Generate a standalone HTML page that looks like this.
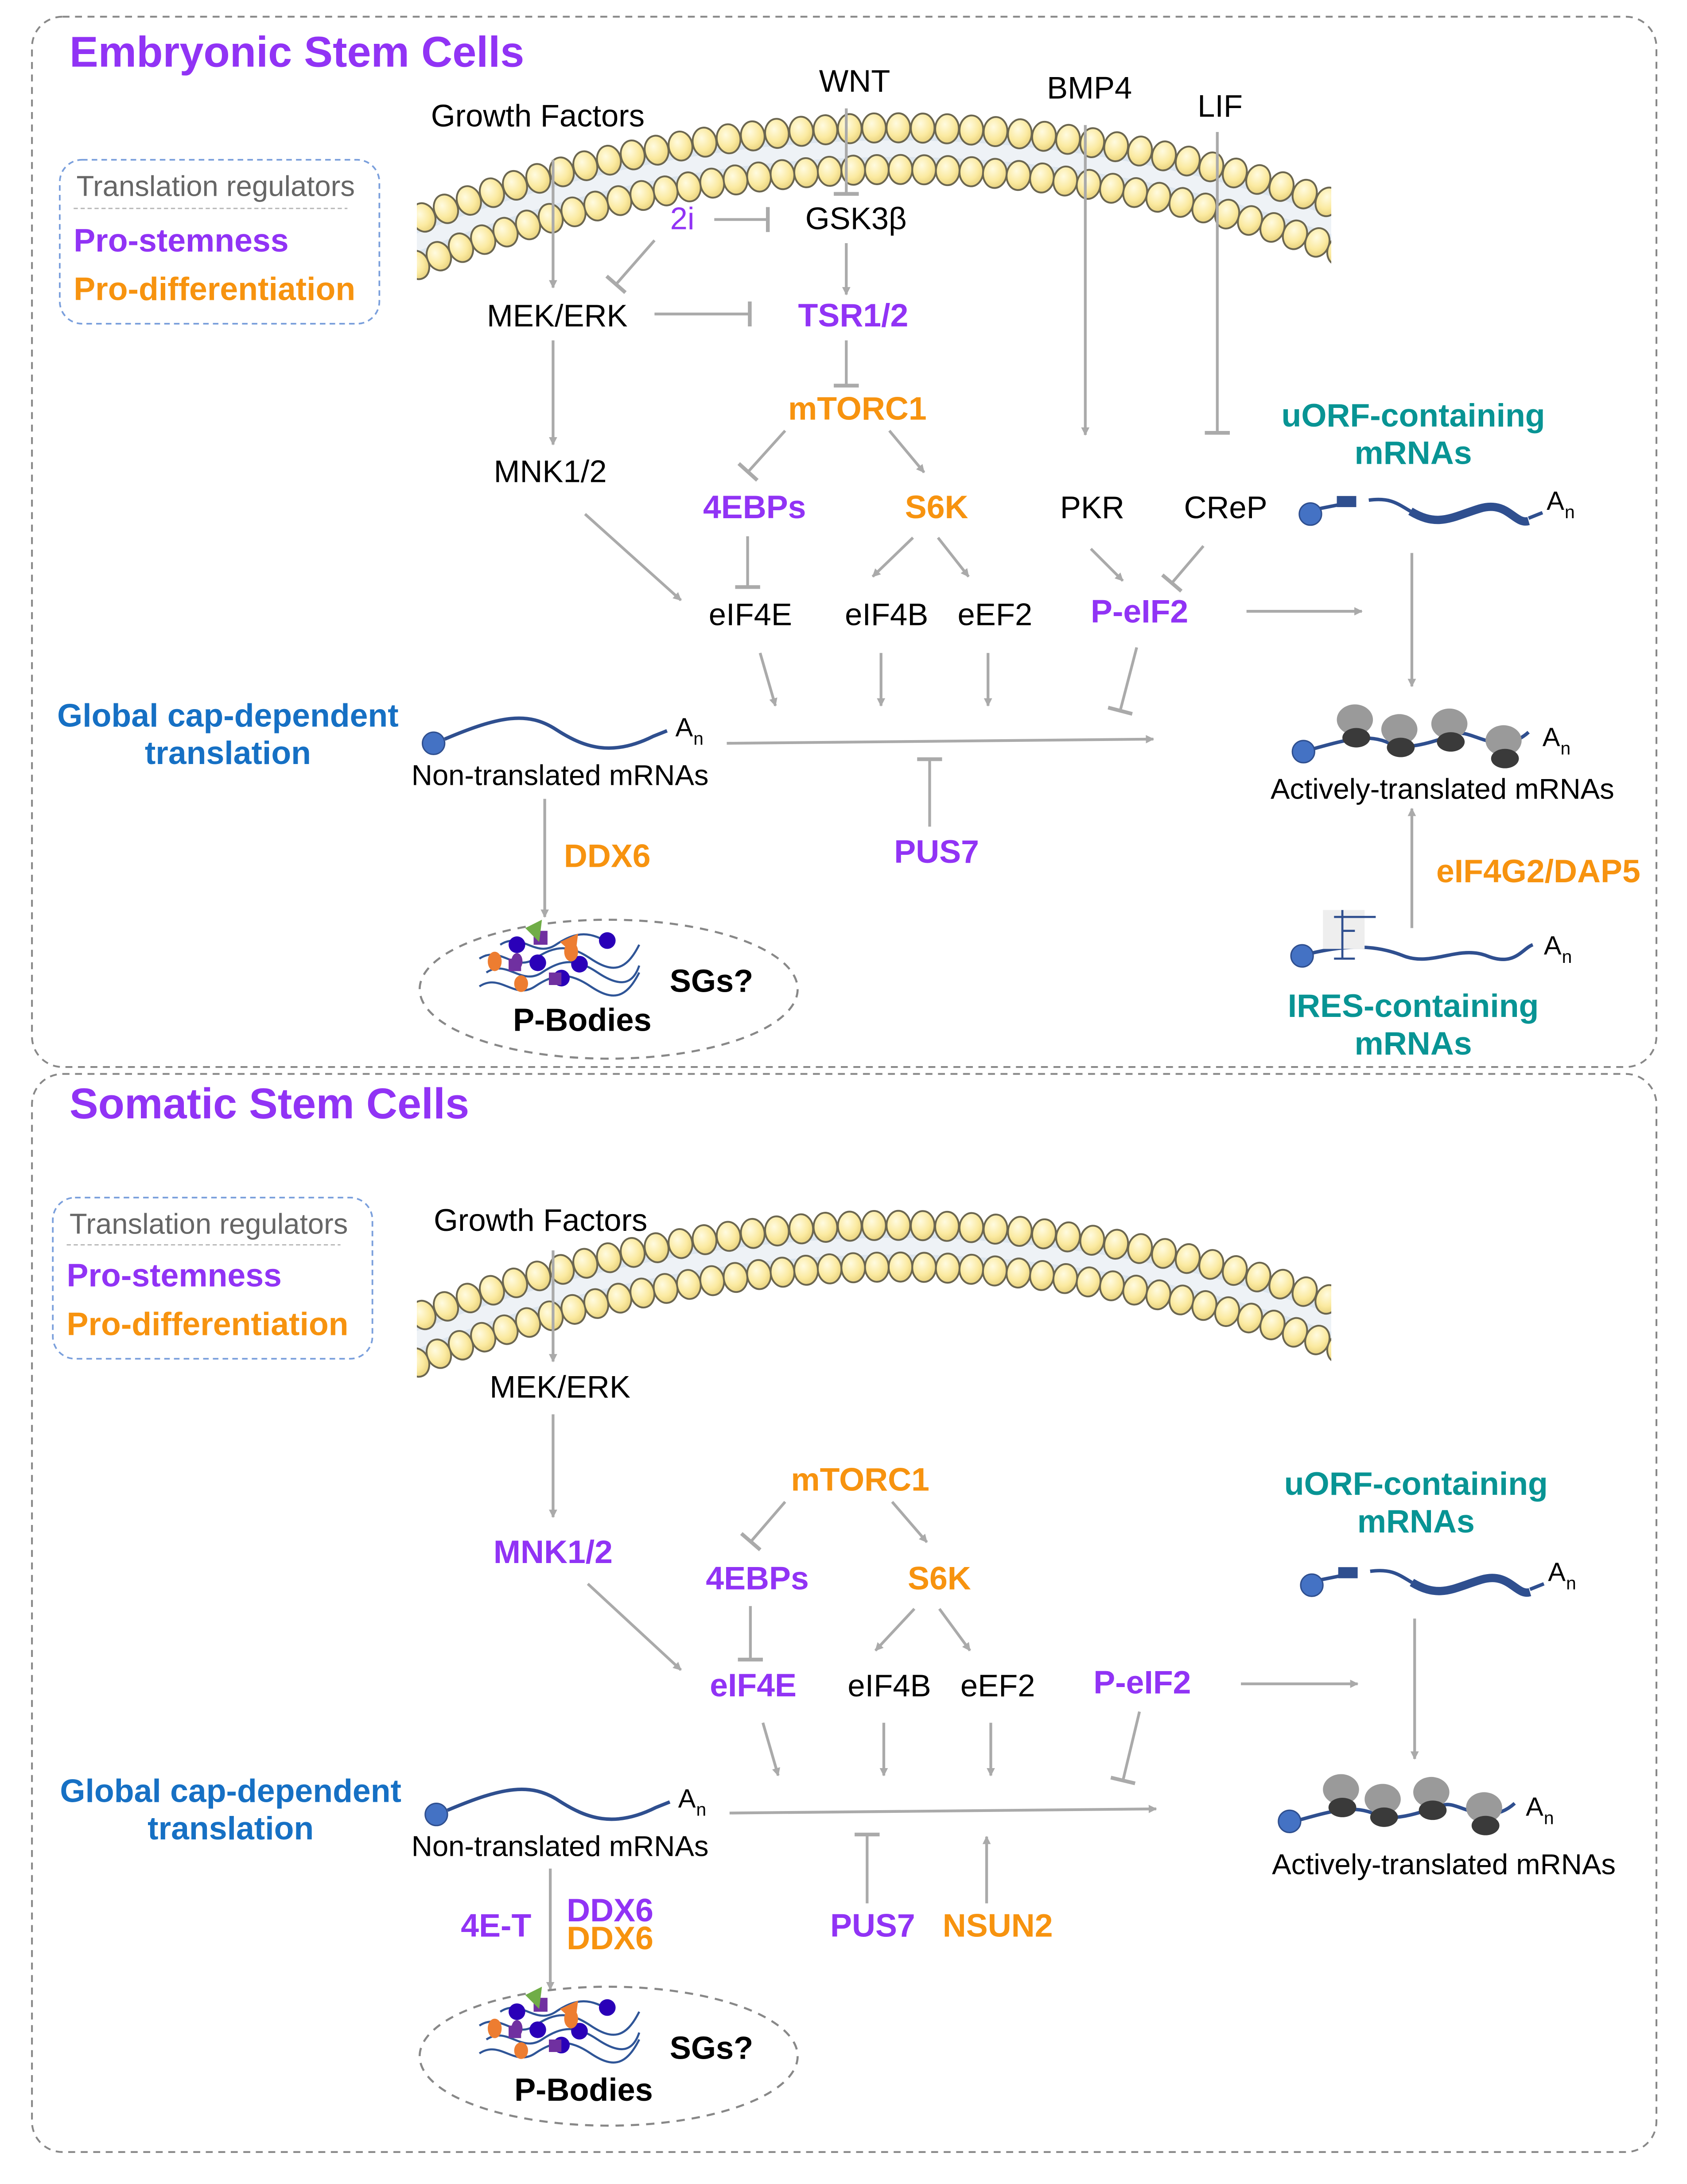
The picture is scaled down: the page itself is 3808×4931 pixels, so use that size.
<!DOCTYPE html>
<html><head><meta charset="utf-8"><style>
html,body{margin:0;padding:0;background:#fff}
svg{display:block}
text{font-family:"Liberation Sans",Arial,sans-serif}
.n{font-size:22.5px;fill:#000}
.b{font-size:23.4px;font-weight:bold}
.p{fill:#9133f5}.o{fill:#f7930f}.t{fill:#089494}.bl{fill:#1670c4}
.a{stroke:#aaa;stroke-width:2;fill:none}
</style></head><body>
<svg id="s" width="3808" height="4931" viewBox="0 0 1214 1572" xmlns="http://www.w3.org/2000/svg">
<defs>
<marker id="ar" viewBox="0 0 10 10" refX="9" refY="5" markerWidth="6" markerHeight="6" orient="auto" markerUnits="userSpaceOnUse"><path d="M0,0 L10,5 L0,10 Z" fill="#aaa"/></marker>
<marker id="tb" viewBox="0 0 4 20" refX="2" refY="10" markerWidth="4" markerHeight="18" orient="auto" markerUnits="userSpaceOnUse"><rect x="0" y="0" width="3" height="20" fill="#aaa"/></marker>
<radialGradient id="hg" cx="0.4" cy="0.35" r="0.7"><stop offset="0" stop-color="#fffbe0"/><stop offset="0.6" stop-color="#fbeaa0"/><stop offset="1" stop-color="#e6cf7a"/></radialGradient>
<g id="rib"><ellipse cx="0" cy="-7" rx="13" ry="11" fill="#9a9a9a"/><ellipse cx="1" cy="6" rx="10" ry="7" fill="#3a3a3a"/></g>
<clipPath id="mc"><rect x="300" y="0" width="658" height="1572"/></clipPath>
</defs>
<rect x="0" y="0" width="1214" height="1572" fill="#fff"/>
<g clip-path="url(#mc)"><g id="mem1"></g><g id="mem2"></g></g>

<rect x="23" y="12" width="1169" height="756" rx="22" fill="none" stroke="#888" stroke-width="1.3" stroke-dasharray="5,4"/>
<rect x="23" y="773" width="1169" height="776" rx="22" fill="none" stroke="#888" stroke-width="1.3" stroke-dasharray="5,4"/>
<text x="50" y="48" font-size="31" font-weight="bold" class="p">Embryonic Stem Cells</text>
<text x="50" y="805" font-size="31" font-weight="bold" class="p">Somatic Stem Cells</text>

<rect x="43" y="115" width="230" height="118" rx="16" fill="none" stroke="#7a9fdc" stroke-width="1.2" stroke-dasharray="4,3"/>
<text x="55" y="141" font-size="20.8" fill="#666">Translation regulators</text>
<line x1="53" y1="150" x2="250" y2="150" stroke="#bbb" stroke-dasharray="3,2"/>
<text x="53" y="181" class="b p">Pro-stemness</text>
<text x="53" y="216" class="b o">Pro-differentiation</text>
<rect x="38" y="862" width="230" height="116" rx="16" fill="none" stroke="#7a9fdc" stroke-width="1.2" stroke-dasharray="4,3"/>
<text x="50" y="888" font-size="20.8" fill="#666">Translation regulators</text>
<line x1="48" y1="896" x2="245" y2="896" stroke="#bbb" stroke-dasharray="3,2"/>
<text x="48" y="926" class="b p">Pro-stemness</text>
<text x="48" y="961" class="b o">Pro-differentiation</text>

<g text-anchor="middle">
<text x="387" y="91" class="n">Growth Factors</text>
<text x="615" y="66" class="n">WNT</text>
<text x="784" y="71" class="n">BMP4</text>
<text x="878" y="84" class="n">LIF</text>
<text x="491" y="165" font-size="22.5" class="p">2i</text>
<text x="616" y="165" class="n">GSK3β</text>
<text x="401" y="235" class="n">MEK/ERK</text>
<text x="614" y="235" class="b p">TSR1/2</text>
<text x="617" y="302" class="b o">mTORC1</text>
<text x="396" y="347" class="n">MNK1/2</text>
<text x="543" y="373" class="b p">4EBPs</text>
<text x="674" y="373" class="b o">S6K</text>
<text x="786" y="373" class="n">PKR</text>
<text x="882" y="373" class="n">CReP</text>
<text x="1017" y="307" class="b t">uORF-containing</text>
<text x="1017" y="334" class="b t">mRNAs</text>
<text x="540" y="450" class="n">eIF4E</text>
<text x="638" y="450" class="n">eIF4B</text>
<text x="716" y="450" class="n">eEF2</text>
<text x="820" y="448" class="b p">P-eIF2</text>
<text x="164" y="523" class="b bl">Global cap-dependent</text>
<text x="164" y="550" class="b bl">translation</text>
<text x="403" y="565" font-size="20.8">Non-translated mRNAs</text>
<text x="1038" y="575" font-size="20.8">Actively-translated mRNAs</text>
<text x="437" y="624" class="b o">DDX6</text>
<text x="674" y="621" class="b p">PUS7</text>
<text x="1107" y="635" class="b o">eIF4G2/DAP5</text>
<text x="1017" y="732" class="b t">IRES-containing</text>
<text x="1017" y="759" class="b t">mRNAs</text>
<text x="419" y="742" font-size="23" font-weight="bold">P-Bodies</text>
<text x="512" y="714" font-size="23" font-weight="bold">SGs?</text>

<text x="389" y="886" class="n">Growth Factors</text>
<text x="403" y="1006" class="n">MEK/ERK</text>
<text x="619" y="1073" class="b o">mTORC1</text>
<text x="398" y="1125" class="b p">MNK1/2</text>
<text x="545" y="1144" class="b p">4EBPs</text>
<text x="676" y="1144" class="b o">S6K</text>
<text x="1019" y="1076" class="b t">uORF-containing</text>
<text x="1019" y="1103" class="b t">mRNAs</text>
<text x="542" y="1221" class="b p">eIF4E</text>
<text x="640" y="1221" class="n">eIF4B</text>
<text x="718" y="1221" class="n">eEF2</text>
<text x="822" y="1219" class="b p">P-eIF2</text>
<text x="166" y="1297" class="b bl">Global cap-dependent</text>
<text x="166" y="1324" class="b bl">translation</text>
<text x="403" y="1336" font-size="20.8">Non-translated mRNAs</text>
<text x="1039" y="1349" font-size="20.8">Actively-translated mRNAs</text>
<text x="357" y="1394" class="b p">4E-T</text>
<text x="439" y="1383" class="b p">DDX6</text>
<text x="439" y="1403" class="b o">DDX6</text>
<text x="628" y="1394" class="b p">PUS7</text>
<text x="718" y="1394" class="b o">NSUN2</text>
<text x="420" y="1512" font-size="23" font-weight="bold">P-Bodies</text>
<text x="512" y="1482" font-size="23" font-weight="bold">SGs?</text>
</g>

<g class="a">
<line x1="398" y1="115" x2="398" y2="207" marker-end="url(#ar)"/>
<line x1="471" y1="173" x2="443" y2="205" marker-end="url(#tb)"/>
<line x1="514" y1="158" x2="553" y2="158" marker-end="url(#tb)"/>
<line x1="609" y1="78" x2="609" y2="140" marker-end="url(#tb)"/>
<line x1="609" y1="175" x2="609" y2="212" marker-end="url(#ar)"/>
<line x1="471" y1="226" x2="540" y2="226" marker-end="url(#tb)"/>
<line x1="609" y1="245" x2="609" y2="278" marker-end="url(#tb)"/>
<line x1="781" y1="90" x2="781" y2="313" marker-end="url(#ar)"/>
<line x1="876" y1="95" x2="876" y2="312" marker-end="url(#tb)"/>
<line x1="398" y1="245" x2="398" y2="320" marker-end="url(#ar)"/>
<line x1="565" y1="310" x2="538" y2="340" marker-end="url(#tb)"/>
<line x1="640" y1="310" x2="665" y2="340" marker-end="url(#ar)"/>
<line x1="421" y1="370" x2="490" y2="432" marker-end="url(#ar)"/>
<line x1="538" y1="386" x2="538" y2="423" marker-end="url(#tb)"/>
<line x1="657" y1="387" x2="628" y2="415" marker-end="url(#ar)"/>
<line x1="675" y1="387" x2="697" y2="415" marker-end="url(#ar)"/>
<line x1="785" y1="395" x2="808" y2="418" marker-end="url(#ar)"/>
<line x1="866" y1="393" x2="843" y2="420" marker-end="url(#tb)"/>
<line x1="547" y1="470" x2="558" y2="508" marker-end="url(#ar)"/>
<line x1="634" y1="470" x2="634" y2="508" marker-end="url(#ar)"/>
<line x1="711" y1="470" x2="711" y2="508" marker-end="url(#ar)"/>
<line x1="818" y1="466" x2="806" y2="512" marker-end="url(#tb)"/>
<line x1="897" y1="440" x2="980" y2="440" marker-end="url(#ar)"/>
<line x1="523" y1="535" x2="830" y2="532" marker-end="url(#ar)"/>
<line x1="669" y1="595" x2="669" y2="546" marker-end="url(#tb)"/>
<line x1="1016" y1="398" x2="1016" y2="494" marker-end="url(#ar)"/>
<line x1="1016" y1="668" x2="1016" y2="582" marker-end="url(#ar)"/>
<line x1="392" y1="575" x2="392" y2="660" marker-end="url(#ar)"/>
</g>
<g class="a">
<line x1="398" y1="900" x2="398" y2="980" marker-end="url(#ar)"/>
<line x1="398" y1="1018" x2="398" y2="1092" marker-end="url(#ar)"/>
<line x1="565" y1="1081" x2="540" y2="1110" marker-end="url(#tb)"/>
<line x1="642" y1="1081" x2="667" y2="1110" marker-end="url(#ar)"/>
<line x1="423" y1="1140" x2="490" y2="1202" marker-end="url(#ar)"/>
<line x1="540" y1="1156" x2="540" y2="1195" marker-end="url(#tb)"/>
<line x1="658" y1="1158" x2="630" y2="1188" marker-end="url(#ar)"/>
<line x1="676" y1="1158" x2="698" y2="1188" marker-end="url(#ar)"/>
<line x1="549" y1="1240" x2="560" y2="1278" marker-end="url(#ar)"/>
<line x1="636" y1="1240" x2="636" y2="1278" marker-end="url(#ar)"/>
<line x1="713" y1="1240" x2="713" y2="1278" marker-end="url(#ar)"/>
<line x1="820" y1="1232" x2="808" y2="1282" marker-end="url(#tb)"/>
<line x1="893" y1="1212" x2="977" y2="1212" marker-end="url(#ar)"/>
<line x1="525" y1="1305" x2="832" y2="1302" marker-end="url(#ar)"/>
<line x1="624" y1="1370" x2="624" y2="1320" marker-end="url(#tb)"/>
<line x1="710" y1="1370" x2="710" y2="1322" marker-end="url(#ar)"/>
<line x1="1018" y1="1165" x2="1018" y2="1266" marker-end="url(#ar)"/>
<line x1="396" y1="1345" x2="396" y2="1432" marker-end="url(#ar)"/>
</g>

<g fill="none" stroke="#2f4f8f" stroke-width="2.5">
<path d="M320,532 C360,515 380,512 400,525 S440,545 470,530 L480,526"/>
<path d="M322,1303 C362,1286 382,1283 402,1296 S442,1316 472,1301 L482,1297"/>
<path d="M950,366 L965,363 M985,360 C1000,358 1005,362 1015,368"/>
<path d="M1015,368 C1035,380 1045,372 1065,366 C1085,360 1090,378 1100,375" stroke-width="6"/>
<path d="M1100,373 L1110,369"/>
<path d="M951,1137 L966,1134 M986,1131 C1001,1129 1006,1133 1016,1139"/>
<path d="M1016,1139 C1036,1151 1046,1143 1066,1137 C1086,1131 1091,1149 1101,1146" stroke-width="6"/>
<path d="M1101,1144 L1111,1140"/>
<path d="M945,539 C970,532 985,528 1000,535 S1040,530 1050,528 S1080,545 1100,527"/>
<path d="M935,1310 C960,1303 975,1299 990,1306 S1030,1301 1040,1299 S1070,1316 1090,1298"/>
<path d="M944,686 C970,680 990,680 1010,688 S1050,680 1070,688 S1095,683 1103,680"/>
</g>
<rect x="962" y="357" width="14" height="8" fill="#2f4f8f"/>
<rect x="963" y="1128" width="14" height="8" fill="#2f4f8f"/>
<g fill="#4472c4" stroke="#2f4f8f" stroke-width="1">
<circle cx="312" cy="535" r="8"/><circle cx="314" cy="1306" r="8"/>
<circle cx="943" cy="370" r="8"/><circle cx="944" cy="1141" r="8"/>
<circle cx="938" cy="541" r="8"/><circle cx="928" cy="1311" r="8"/>
<circle cx="937" cy="688" r="8"/>
</g>
<use href="#rib" x="975" y="525"/><use href="#rib" x="1007" y="532"/><use href="#rib" x="1043" y="528"/><use href="#rib" x="1082" y="540"/>
<use href="#rib" x="965" y="1295"/><use href="#rib" x="995" y="1302"/><use href="#rib" x="1030" y="1297"/><use href="#rib" x="1068" y="1308"/>
<rect x="952" y="655" width="30" height="28" fill="#eee"/>
<g fill="none" stroke="#2f4f8f" stroke-width="1.5"><path d="M960,660 L990,660 M966,655 L966,690 M966,670 L975,670 M960,690 L975,690"/></g>
<g font-size="19"><text x="486" y="530">A</text><text x="499" y="536" font-size="13">n</text>
<text x="488" y="1301">A</text><text x="501" y="1307" font-size="13">n</text>
<text x="1113" y="367">A</text><text x="1126" y="373" font-size="13">n</text>
<text x="1114" y="1138">A</text><text x="1127" y="1144" font-size="13">n</text>
<text x="1110" y="537">A</text><text x="1123" y="543" font-size="13">n</text>
<text x="1098" y="1307">A</text><text x="1111" y="1313" font-size="13">n</text>
<text x="1111" y="687">A</text><text x="1124" y="693" font-size="13">n</text></g>

<ellipse cx="438" cy="712" rx="136" ry="50" fill="none" stroke="#888" stroke-width="1.5" stroke-dasharray="6,5"/>
<ellipse cx="438" cy="1480" rx="136" ry="50" fill="none" stroke="#888" stroke-width="1.5" stroke-dasharray="6,5"/>
<g id="pb">
<g fill="none" stroke="#2f5597" stroke-width="1.5">
<path d="M345,690 C360,680 370,700 385,690 S410,680 425,690 S450,700 460,680"/>
<path d="M345,710 C360,700 370,720 385,710 S410,700 425,710 S450,720 460,700"/>
<path d="M360,680 C375,670 385,690 400,680 S425,670 440,680"/>
<path d="M350,700 C365,690 375,710 390,700 S415,690 430,700 S455,710 460,695"/>
</g>
<circle cx="372" cy="680" r="6" fill="#2a00b8"/><circle cx="387" cy="693" r="6" fill="#2a00b8"/><circle cx="417" cy="694" r="6" fill="#2a00b8"/><circle cx="404" cy="704" r="6" fill="#2a00b8"/><circle cx="437" cy="677" r="6" fill="#2a00b8"/>
<ellipse cx="356" cy="692" rx="5" ry="7" fill="#ed7d31"/><ellipse cx="411" cy="685" rx="5" ry="7" fill="#ed7d31"/><ellipse cx="375" cy="708" rx="5" ry="6" fill="#ed7d31"/>
<rect x="384" y="670" width="10" height="10" fill="#7030a0"/><rect x="366" y="690" width="9" height="9" fill="#7030a0"/><rect x="395" y="700" width="9" height="9" fill="#7030a0"/>
<ellipse cx="372" cy="692" rx="4" ry="6" fill="#7030a0"/>
<path d="M378,668 L390,662 L388,678 Z" fill="#70ad47"/><path d="M403,678 L416,672 L414,688 Z" fill="#ed7d31"/>
</g>
<use href="#pb" x="0" y="768"/>
</svg>
<script>
(function(){
 function mem(id,dy){
  var g=document.getElementById(id),cx=645,cy=1022+dy,h="";
  h+='<path d="'+arc(cx,cy,915,-0.45,0.45)+'" fill="none" stroke="#dde6ef" stroke-width="30"/>';
  h+='<path d="'+arc(cx,cy,915,-0.45,0.45)+'" fill="none" stroke="#eef2f6" stroke-width="12"/>';
  [[930,17.5],[900,17]].forEach(function(p){
   var R=p[0],step=p[1]/R;
   for(var a=-0.45;a<=0.45;a+=step){
    var x=cx+R*Math.sin(a),y=cy-R*Math.cos(a);
    if(x<292||x>968)continue;
    var deg=a*180/Math.PI;
    h+='<ellipse cx="'+x.toFixed(1)+'" cy="'+y.toFixed(1)+'" rx="8.5" ry="10.5" transform="rotate('+deg.toFixed(1)+' '+x.toFixed(1)+' '+y.toFixed(1)+')" fill="url(#hg)" stroke="#6b6650" stroke-width="1.3"/>';
   }
  });
  g.innerHTML=h;
 }
 function arc(cx,cy,R,a0,a1){
  var x0=cx+R*Math.sin(a0),y0=cy-R*Math.cos(a0),x1=cx+R*Math.sin(a1),y1=cy-R*Math.cos(a1);
  return "M"+x0+","+y0+" A"+R+","+R+" 0 0 1 "+x1+","+y1;
 }
 mem("mem1",0);mem("mem2",790);
})();
</script>
</body></html>
